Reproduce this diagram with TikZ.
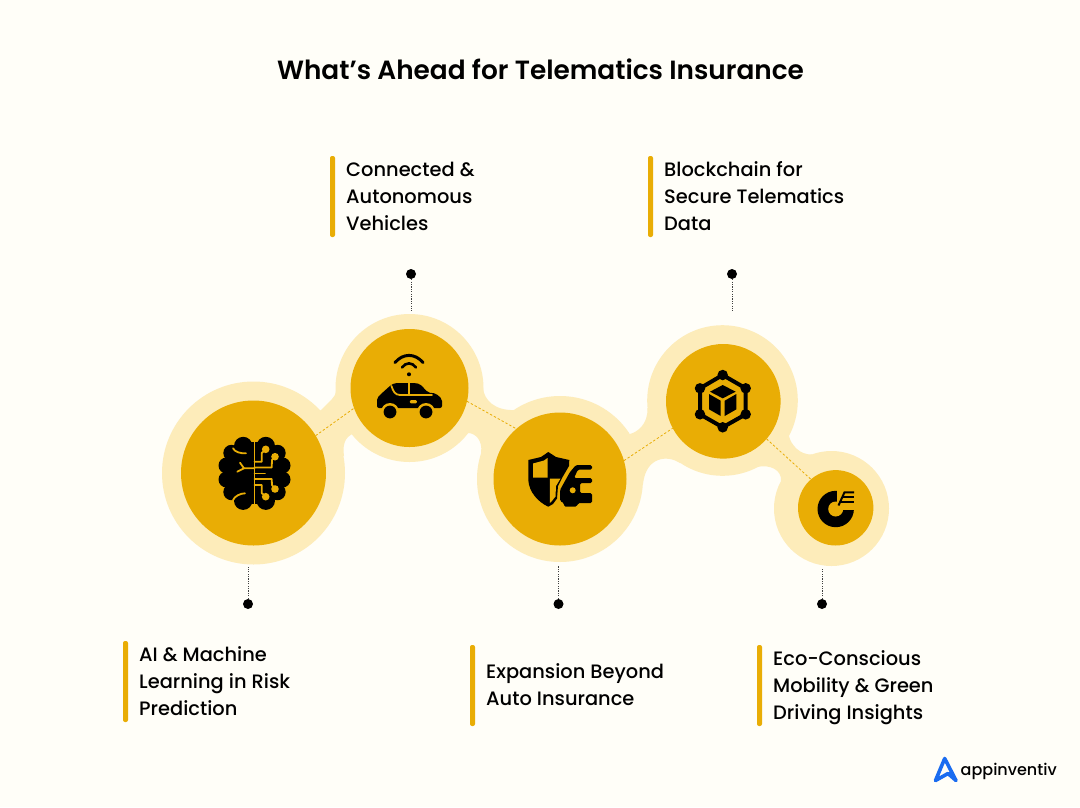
\documentclass[tikz,border=0pt]{standalone}
\usepackage{fontspec}
\setmainfont{Poppins}[UprightFont=* Medium,BoldFont=* SemiBold]
\definecolor{paper}{RGB}{255,254,248}
\definecolor{halo}{RGB}{253,236,186}
\definecolor{gold}{RGB}{233,173,5}
\definecolor{brandblue}{RGB}{26,108,240}
\tikzset{
  halodisc/.style={circle,fill=halo,inner sep=0pt,outer sep=0pt},
  golddisc/.style={circle,fill=gold,inner sep=0pt,outer sep=0pt},
  dot/.style={circle,fill=black,inner sep=0pt,minimum size=10pt},
  link/.style={draw=gold,line width=0.8pt,dash pattern=on 2.4pt off 2pt},
  stem/.style={draw=black!75,line width=0.8pt,dash pattern=on 1.2pt off 1.2pt},
  bar/.style={fill=gold,rounded corners=2pt},
  lbl/.style={anchor=west,align=left,inner sep=0pt,font=\fontsize{19.4}{27}\selectfont},
  gl/.style={draw=gold,line width=1.8pt,line cap=round,line join=round},
}
\begin{document}
\begin{tikzpicture}[x=1pt,y=-1pt]
\useasboundingbox (0,0) rectangle (1080,807);
\fill[paper] (0,0) rectangle (1080,807);
% bands
\fill[halo] (253.5,473) -- (321,410) -- (332,399) .. controls (336,395) and (337,390) .. (336,385) -- (409.5,388) -- (352,434) .. controls (346,437) and (342,444) .. (344,456) -- cycle;
\fill[halo] (409.5,388) -- (483,388) .. controls (484,400) and (495,411) .. (515,410) -- (560,479) -- (481,453) .. controls (483,440) and (475,433) .. (468,433) -- cycle;
\fill[halo] (560,479) -- (630,434) .. controls (637,432) and (648,425) .. (647.5,408) -- (722.5,400.5) -- (680,463) .. controls (668,455) and (646,456) .. (643,484) -- cycle;
\fill[halo] (722.5,400.5) -- (789,436) .. controls (791,445) and (800,455) .. (812,454.5) -- (831.5,508.5) -- (781,481) .. controls (782,470) and (770,464) .. (757,467) -- cycle;
% discs
\node[halodisc,minimum size=183pt] (h1) at (253.5,473) {};
\node[halodisc,minimum size=148pt] (h2) at (409.5,388) {};
\node[halodisc,minimum size=166pt] (h3) at (560,479) {};
\node[halodisc,minimum size=150.6pt] (h4) at (722.5,400.5) {};
\node[halodisc,minimum size=115pt] (h5) at (831.5,508.5) {};
\node[golddisc,minimum size=145pt] (c1) at (253.5,473) {};
\node[golddisc,minimum size=118pt] (c2) at (409.5,388) {};
\node[golddisc,minimum size=133pt] (c3) at (560,479) {};
\node[golddisc,minimum size=114.6pt] (c4) at (723.3,401.3) {};
\node[golddisc,minimum size=75.4pt] (c5) at (835.7,507.8) {};
\draw[link] (c1.31) -- (c2.200);
\draw[link] (c2.-13.5) -- (c3.131);
\draw[link] (c3.16.5) -- (c4.208);
\draw[link] (c4.-41) -- (c5.131);
% stems
\node[dot] (d1) at (248,604) {};
\node[dot] (d2) at (411,274) {};
\node[dot] (d3) at (558.5,604) {};
\node[dot] (d4) at (732,274) {};
\node[dot] (d5) at (822,604) {};
\coordinate (e1) at (248,567);
\coordinate (e2) at (411,311);
\coordinate (e3) at (558.5,566);
\coordinate (e4) at (732,311);
\coordinate (e5) at (822,568);
\foreach \i in {1,...,5} \draw[stem] (d\i) -- (e\i);
% bars and labels
\fill[bar] (330,156) rectangle (335,237);
\fill[bar] (648,156) rectangle (653,237);
\fill[bar] (123,641) rectangle (128,722);
\fill[bar] (470,645) rectangle (475,726);
\fill[bar] (757,645) rectangle (762,726);
\node[anchor=center,inner sep=0pt,font=\fontsize{26.35}{32}\selectfont\bfseries] (title) at (540.5,69) {What’s Ahead for Telematics Insurance};
\node[lbl] (t2) at (346,196) {Connected \&\\Autonomous\\Vehicles};
\node[lbl] (t4) at (664,196) {Blockchain for\\Secure Telematics\\Data};
\node[lbl] (t1) at (139,681) {AI \& Machine\\Learning in Risk\\Prediction};
\node[lbl] (t3) at (486,685) {Expansion Beyond\\Auto Insurance};
\node[lbl] (t5) at (773,688) {Eco-Conscious\\Mobility \& Green\\Driving Insights};
% brain icon
\fill[black] (254.5,473) ellipse[x radius=30,y radius=31];
\foreach \x/\y/\r in {-11.3/-27/9.2,-23/-20/8.2,-28/-7.5/8,-28/6.5/8,-23/19/8.2,-11.3/27.7/9.2,11.3/-27/9.2,23/-20/8.2,28/-7.5/8,28/6.5/8,23/19/8.2,11.3/27.7/9.2}
  \fill[black] (254.5+\x,473+\y) circle[radius=\r];
\draw[gl] (254.5,436) -- (254.5,510);
\draw[gl] (254.5,461.7) -- (261.7,461.7) -- (261.7,453) -- (265.7,449.3);
\draw[gl] (254.5,467.5) -- (271.7,467.5) -- (272,460) -- (275,456.7);
\draw[gl] (254.5,473.5) -- (265,473.5);
\draw[gl] (254.5,479) -- (271.7,479) -- (272,485) -- (275,489);
\draw[gl] (254.5,485) -- (261.7,485) -- (261.7,493) -- (265.7,496.7);
\foreach \x/\y in {265.7/449.3,275/456.7,275/489,265.7/496.7}
  \fill[gold] (\x,\y) circle[radius=3.8];
\draw[gl] (254.5,468.3) -- (244,468.3) -- (240,462.7);
\draw[gl] (244,468.3) -- (237.3,471.7);
\draw[gl] (233,448.3) .. controls (235,452) and (240,453.5) .. (246,453.3);
\draw[gl] (233,500) .. controls (235,496) and (240,493.5) .. (245,493.3);
% car icon
\fill[black] (409,374.3) circle[radius=2];
\draw[black,line width=3pt,line cap=round] (395,362.6) .. controls (403,353) and (415,353) .. (423,362.6);
\draw[black,line width=2.6pt,line cap=round] (402,367.5) .. controls (406,362) and (412,362) .. (416,367.5);
\fill[black,rounded corners=2pt] (377,408) -- (377,398) -- (381,394) -- (391,385) -- (395,383) -- (415,383) -- (420,384) -- (428,392.5) -- (436,393.5) -- (442,399) -- (442,408) -- cycle;
\draw[gl] (391.5,386) .. controls (393,391) and (395,395) .. (400,395) -- (432,395);
\draw[gl] (409,382) -- (409,395);
\fill[gold,rounded corners=1.2pt] (409.8,400) rectangle (416.8,403.4);
\foreach \x in {390,426} {
  \fill[gold] (\x,412) circle[radius=9];
  \fill[black] (\x,412) circle[radius=6.4];
}
\fill[black] (398.7,406) rectangle (417.3,408.3);
% shield and car icon
\fill[black] (548.3,452) -- (541,457) -- (528.3,460) -- (528.3,480) .. controls (529,492) and (538,502) .. (548.3,506.7) -- (553,504) -- (557,498.5) -- (558,486) -- (562,478) -- (569,466) -- (569.3,460) -- (556,457) -- cycle;
\fill[gold] (533,463.5) -- (544,460.5) -- (547.5,458) -- (547.5,477.5) -- (533,477.5) -- cycle;
\fill[gold] (549.8,478.5) -- (560.5,478.5) -- (556,486) -- (555.5,496.5) -- (551.5,501.5) -- (549.8,503) -- cycle;
\fill[black,rounded corners=1.5pt] (592,465) -- (576,465) -- (570,472) -- (560,490) -- (560,501) -- (564,503) -- (564,506.5) -- (577,506.5) -- (578,503) -- (592,503) -- (592,493) -- (580,493) -- (580,483) -- (592,483) -- (592,478) -- (574,478) -- (578,469.5) -- (592,469.5) -- cycle;
\fill[gold] (572.7,490.3) circle[radius=3];
% cube icon
\foreach \n/\x/\y in {a/722.7/375,b/745.7/388.3,c/745.7/414.3,d/722.7/427.3,f/700/414.3,g/700/388.3}
  \node[dot,minimum size=10.5pt] (n\n) at (\x,\y) {};
\draw[black,line width=4pt,line join=round] (na.center) -- (nb.center) -- (nc.center) -- (nd.center) -- (nf.center) -- (ng.center) -- cycle;
\fill[black] (722.7,385) -- (735.7,391.7) -- (722.7,398.3) -- (710,391.7) -- cycle;
\fill[black] (709,394) -- (720.7,400.7) -- (720.7,416) -- (709,409.3) -- cycle;
\fill[black] (736.4,394) -- (724.7,400.7) -- (724.7,416) -- (736.4,409.3) -- cycle;
% donut icon
\fill[black] (835.7,509) circle[radius=18.2];
\fill[gold] (836.5,489) rectangle (856,510);
\fill[gold] (835.7,509) circle[radius=7.5];
\draw[black,line width=2pt] (838.5,505.5) -- (844.5,492.3) -- (854,492.3);
\draw[black,line width=2pt] (842.5,497) -- (854,497);
\draw[black,line width=2pt] (840.5,501.7) -- (854,501.7);
% logo
\draw[brandblue,line width=3.6pt,line join=round,line cap=round] (935.5,780.5) -- (944.7,758.5) -- (956,780.5) -- (948,773.5) -- cycle;
\node[anchor=west,inner sep=0pt,font=\fontsize{16}{20}\selectfont] (logo) at (960.5,771) {appinventiv};
\end{tikzpicture}
\end{document}
